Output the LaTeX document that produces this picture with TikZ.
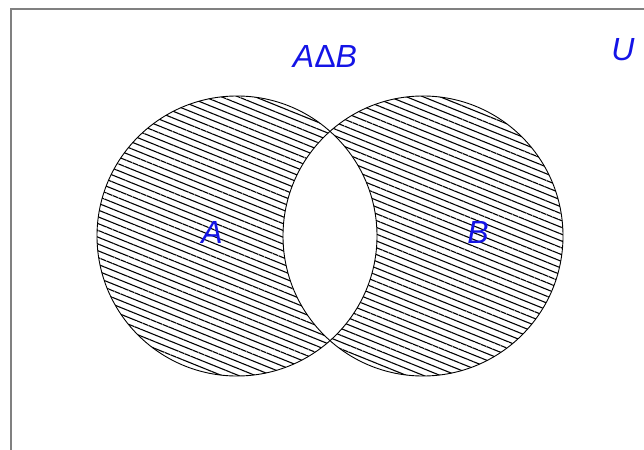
\documentclass[tikz,border=0pt]{standalone}
\usepackage{fontspec}
\setmainfont{Liberation Sans}
\usepackage{xcolor}
\definecolor{setblue}{HTML}{1414E6}
\definecolor{framegray}{HTML}{808080}
\usepackage{tikz}
\usetikzlibrary{patterns.meta}

\begin{document}
\begin{tikzpicture}[
  x=1pt,y=-1pt,
  setlabel/.style={text=setblue,font=\fontsize{32}{36}\selectfont\itshape,inner sep=0pt},
  hatch/.style={pattern={Lines[angle=-22,distance=6.3pt,line width=1.1pt]},pattern color=black},
  rim/.style={draw=black,line width=0.9pt}
]
\useasboundingbox (0,0) rectangle (644,449);
\clip (0,0) rectangle (644,449);
\draw[framegray,line width=2pt] (11,9) rectangle (700,500);
\coordinate (cA) at (237,236);
\coordinate (cB) at (423,236);
\fill[hatch,even odd rule] (cA) circle[radius=140] (cB) circle[radius=140];
\draw[rim] (cA) circle[radius=140];
\draw[rim] (cB) circle[radius=140];
\node[setlabel] (labA) at (212,232) {A};
\node[setlabel] (labB) at (478,232) {B};
\node[setlabel] (labDiff) at (325,56) {A{\upshape Δ}B};
\node[setlabel] (labU) at (623,50) {U};
\end{tikzpicture}
\end{document}
